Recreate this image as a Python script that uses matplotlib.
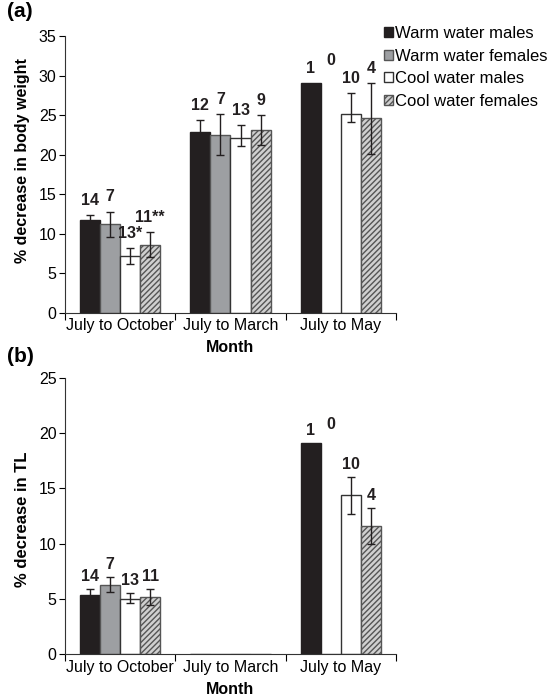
import numpy as np
import matplotlib
matplotlib.use("Agg")
import matplotlib.pyplot as plt
from matplotlib.patches import Patch

plt.rcParams['font.family'] = ['Liberation Sans', 'DejaVu Sans']
plt.rcParams['hatch.linewidth'] = 1.0

months = ["July to October", "July to March", "July to May"]
groups = ["Warm water males", "Warm water females", "Cool water males", "Cool water females"]

# (a) % decrease in body weight, one list per group (Oct, Mar, May)
bw_vals = [[11.7, 22.9, 29.0],
           [11.2, 22.5, np.nan],
           [7.2, 22.1, 25.1],
           [8.6, 23.1, 24.6]]
bw_lo = [[0.6, 1.5, 0.0],
         [1.6, 2.6, 0.0],
         [1.0, 1.0, 1.0],
         [1.6, 1.9, 4.5]]
bw_hi = [[0.6, 1.5, 0.0],
         [1.6, 2.6, 0.0],
         [1.0, 1.6, 2.7],
         [1.6, 1.9, 4.5]]
bw_n = [["14", "12", "1"],
        ["7", "7", "0"],
        ["13*", "13", "10"],
        ["11**", "9", "4"]]

# (b) % decrease in TL
tl_vals = [[5.4, np.nan, 19.1],
           [6.3, np.nan, np.nan],
           [5.0, np.nan, 14.4],
           [5.2, np.nan, 11.6]]
tl_lo = [[0.5, 0, 0.0],
         [0.7, 0, 0.0],
         [0.4, 0, 1.7],
         [0.7, 0, 1.6]]
tl_hi = [[0.5, 0, 0.0],
         [0.7, 0, 0.0],
         [0.5, 0, 1.6],
         [0.7, 0, 1.6]]
tl_n = [["14", "", "1"],
        ["7", "", "0"],
        ["13", "", "10"],
        ["11", "", "4"]]

face = ['#231f20', '#9d9fa2', 'white', '#d0d0d0']
edge = ['#231f20', '#555555', '#333333', '#555555']
hatch = [None, None, None, '//////']

fig = plt.figure(figsize=(5.49, 6.96), dpi=100)
ax1 = fig.add_axes([0.1184, 0.5507, 0.6029, 0.3976])
ax2 = fig.add_axes([0.1184, 0.0599, 0.6029, 0.3974])

width = 0.182
centers = np.arange(len(months)) + 0.5


def draw(ax, vals, lo, hi, labels, ymax, ylabel, pad, ylab_size, ylab_pos):
    for i in range(4):
        x = centers + (i - 1.5) * width
        v = np.array(vals[i], dtype=float)
        ax.bar(x, np.nan_to_num(v), width, color=face[i], edgecolor=edge[i],
               hatch=hatch[i], linewidth=1.0, zorder=2)
        err = np.array([lo[i], hi[i]], dtype=float)
        ok = ~np.isnan(v) & (err.sum(axis=0) > 0)
        ax.errorbar(x[ok], v[ok], yerr=err[:, ok], fmt='none', ecolor='#231f20',
                    elinewidth=1.0, capsize=3, capthick=1.0, zorder=3)
        for j in range(len(months)):
            if labels[i][j] == "":
                continue
            top = np.nan_to_num(v[j]) + hi[i][j]
            if np.isnan(v[j]):
                # missing bar: put the n next to the neighbour's label
                top = np.nan_to_num(vals[i - 1][j]) + hi[i - 1][j] + pad * 1.2
            ax.text(x[j], top + pad, labels[i][j], ha='center', va='bottom',
                    fontsize=11.5, fontweight='bold', color='#231f20')
    ax.set_xlim(0, 3)
    ax.set_ylim(0, ymax)
    ax.set_xticks([0, 1, 2, 3])
    ax.set_xticklabels([])
    ax.set_xticks(centers, minor=True)
    ax.set_xticklabels(months, minor=True, fontsize=11.5)
    ax.tick_params(axis='x', which='minor', length=0, pad=4)
    ax.tick_params(axis='x', which='major', length=5, direction='out')
    ax.tick_params(axis='y', labelsize=11.5, length=4, pad=2)
    for s in ['top', 'right']:
        ax.spines[s].set_visible(False)
    for s in ['left', 'bottom']:
        ax.spines[s].set_color('#333333')
    ax.set_ylabel(ylabel, fontsize=ylab_size, fontweight='bold')
    ax.yaxis.set_label_coords(-0.105, ylab_pos)
    ax.set_xlabel("Month", fontsize=11.5, fontweight='bold', labelpad=5)


draw(ax1, bw_vals, bw_lo, bw_hi, bw_n, 35, "% decrease in body weight", 0.9, 11.5, 0.55)
ax1.set_yticks(np.arange(0, 36, 5))
draw(ax2, tl_vals, tl_lo, tl_hi, tl_n, 25, "% decrease in TL", 0.45, 12, 0.49)
ax2.set_yticks(np.arange(0, 26, 5))

fig.text(0.012, 0.997, "(a)", fontsize=15, fontweight='bold', va='top')
fig.text(0.012, 0.502, "(b)", fontsize=15, fontweight='bold', va='top')

handles = [Patch(facecolor=face[i], edgecolor=edge[i], hatch=hatch[i], label=groups[i])
           for i in range(4)]
fig.legend(handles=handles, loc='upper left', bbox_to_anchor=(0.688, 0.972),
           frameon=False, fontsize=12, handlelength=0.5, handleheight=0.55,
           handletextpad=0.15, labelspacing=0.45, borderaxespad=0)

fig.savefig("out.png", dpi=100)
